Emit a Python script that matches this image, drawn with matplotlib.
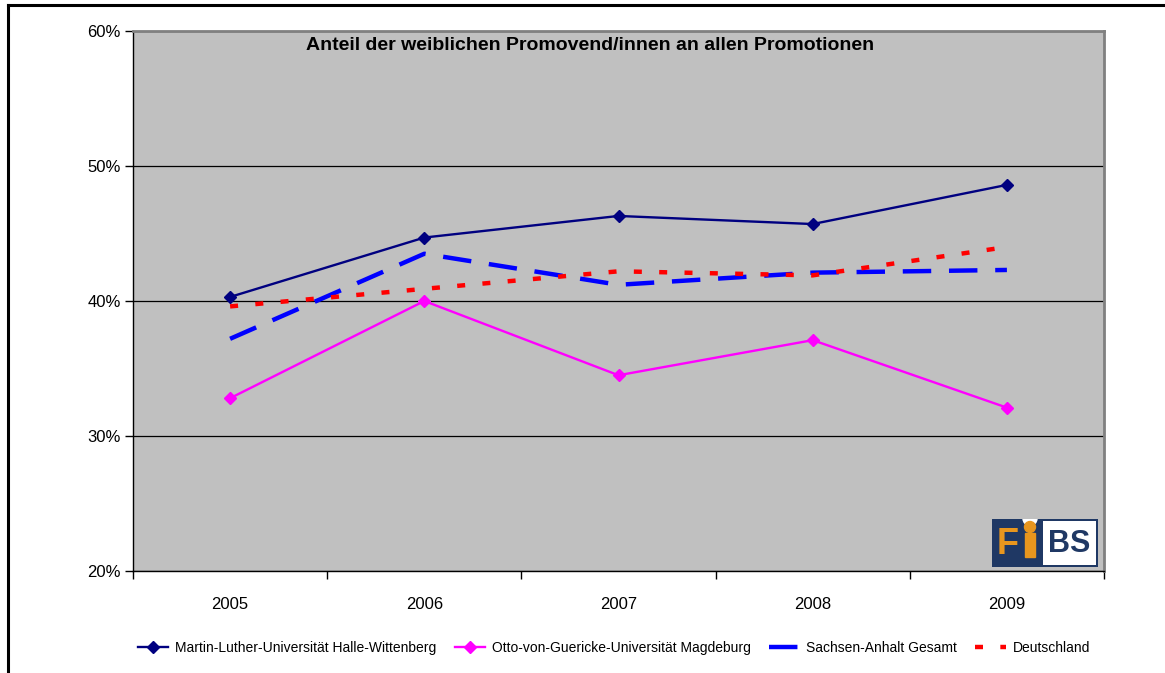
import matplotlib
matplotlib.use("Agg")
import matplotlib.pyplot as plt
from matplotlib.lines import Line2D
from matplotlib.patches import Rectangle, Circle
from matplotlib.ticker import PercentFormatter, FixedLocator

years = ["2005", "2006", "2007", "2008", "2009"]
halle = [40.3, 44.7, 46.3, 45.7, 48.6]
magdeburg = [32.8, 40.0, 34.5, 37.1, 32.1]
sachsen_anhalt = [37.2, 43.5, 41.2, 42.1, 42.3]
deutschland = [39.6, 40.9, 42.2, 41.9, 44.0]
series_labels = ["Martin-Luther-Universität Halle-Wittenberg",
                 "Otto-von-Guericke-Universität Magdeburg",
                 "Sachsen-Anhalt Gesamt", "Deutschland"]
title = "Anteil der weiblichen Promovend/innen an allen Promotionen"
y_ticks = [20, 30, 40, 50, 60]

plt.rcParams["font.family"] = ["Liberation Sans", "DejaVu Sans"]

W, H = 1165, 673
fig = plt.figure(figsize=(W / 100, H / 100), dpi=100)
ax = fig.add_axes([133 / W, 1 - 571 / H, (1104 - 133) / W, (571 - 31) / H])
ax.set_facecolor("#c0c0c0")

x = list(range(len(years)))
ax.plot(x, halle, color="#000080", lw=1.7, marker="D", ms=6.5, zorder=5)
ax.plot(x, magdeburg, color="#ff00ff", lw=1.7, marker="D", ms=6.5, zorder=5)
l3, = ax.plot(x, sachsen_anhalt, color="#0000ff", lw=3.2, zorder=4)
l3.set_dashes((6.4, 4.0))
l4, = ax.plot(x, deutschland, color="#ff0000", lw=3.2, zorder=4)
l4.set_dashes((1.8, 3.9))

ax.set_xlim(-0.5, len(years) - 0.5)
ax.set_ylim(20, 60)
ax.set_yticks(y_ticks)
ax.yaxis.set_major_formatter(PercentFormatter(decimals=0))
ax.set_xticks(x)
ax.set_xticklabels(years)
ax.xaxis.set_minor_locator(FixedLocator([i - 0.5 for i in range(len(years) + 1)]))
ax.tick_params(axis="x", which="major", length=0, labelsize=12, pad=19)
ax.tick_params(axis="x", which="minor", length=6, width=1, direction="out")
ax.tick_params(axis="y", length=6, width=1, direction="out", labelsize=12, pad=3)
ax.grid(axis="y", color="black", lw=0.9)
ax.set_axisbelow(True)
for s in ("left", "bottom"):
    ax.spines[s].set_color("black")
    ax.spines[s].set_linewidth(1.0)
for s in ("top", "right"):
    ax.spines[s].set_color("#808080")
    ax.spines[s].set_linewidth(2.0)

fig.text(590 / W, 1 - 46 / H, title, ha="center", va="center",
         fontsize=14, fontweight="bold")

# legend
h1 = Line2D([], [], color="#000080", lw=1.7, marker="D", ms=6.0)
h2 = Line2D([], [], color="#ff00ff", lw=1.7, marker="D", ms=6.0)
h3 = Line2D([], [], color="#0000ff", lw=3.2)
h3.set_dashes((6.4, 4.0))
h4 = Line2D([], [], color="#ff0000", lw=3.2)
h4.set_dashes((1.8, 3.9))
fig.legend([h1, h2, h3, h4], series_labels, loc="center",
           bbox_to_anchor=(614 / W, 1 - 648 / H), ncol=4, frameon=False,
           handlelength=2.2, handletextpad=0.5, columnspacing=1.3,
           prop={"size": 10})

# outer frame
fig.add_artist(Line2D([8 / W, 1.0], [1 - 5 / H, 1 - 5 / H], color="black", lw=2.2,
                      transform=fig.transFigure))
fig.add_artist(Line2D([8 / W, 8 / W], [0, 1 - 5 / H], color="black", lw=2.2,
                      transform=fig.transFigure))

# FiBS logo
lx0, ly0, lx1, ly1 = 992, 519, 1098, 567
lax = fig.add_axes([lx0 / W, 1 - ly1 / H, (lx1 - lx0) / W, (ly1 - ly0) / H])
lax.set_xlim(0, lx1 - lx0)
lax.set_ylim(0, ly1 - ly0)
lax.axis("off")
navy = "#1f3864"
orange = "#e8961e"
lax.add_patch(Rectangle((0, 0), lx1 - lx0, ly1 - ly0, color=navy))
lax.add_patch(Rectangle((51, 2), 53, 44, facecolor="white", edgecolor="none"))
lax.add_patch(Circle((38, 48.5), 7, color="white"))
lax.add_patch(Circle((38, 40), 5.5, color=orange))
lax.text(16, 22, "F", color=orange, fontsize=26, fontweight="bold",
         ha="center", va="center")
lax.add_patch(Rectangle((32.5, 10), 10, 24, color=orange))
lax.text(77, 22.5, "BS", color=navy, fontsize=22, fontweight="bold",
         ha="center", va="center")

fig.savefig("out.png", dpi=100)
